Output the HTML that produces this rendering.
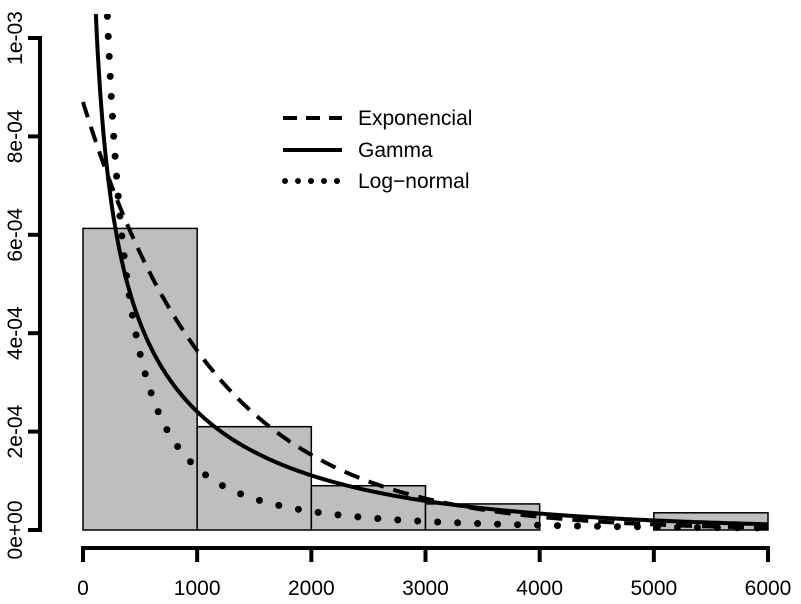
<!DOCTYPE html>
<html><head><meta charset="utf-8"><style>body{margin:0;background:#fff}svg{display:block}</style></head>
<body>
<svg id="chart" width="801" height="604" xmlns="http://www.w3.org/2000/svg" font-family="Liberation Sans, sans-serif">
<defs><clipPath id="clip"><rect x="0" y="14" width="801" height="540"/></clipPath></defs>
<g id="bars"></g>
<g id="curves" clip-path="url(#clip)"></g>
<g id="axes"></g>
<g id="legend">
  <line x1="283" y1="118" x2="342" y2="118" stroke="#000" stroke-width="4" stroke-dasharray="14,9"/>
  <text x="358" y="125" font-size="21">Exponencial</text>
  <line x1="283" y1="150" x2="342" y2="150" stroke="#000" stroke-width="4"/>
  <text x="358" y="157" font-size="21">Gamma</text>
  <line x1="285" y1="181" x2="342" y2="181" stroke="#000" stroke-width="6" stroke-linecap="round" stroke-dasharray="0,13"/>
  <text x="358" y="188" font-size="21">Log−normal</text>
</g>
</svg>
<script>
const binEdges = [0,1000,2000,3000,4000,5000,6000];
const binDensity = [6.13e-4, 2.1e-4, 0.9e-4, 0.53e-4, 0, 0.35e-4];
const xTicks = [0,1000,2000,3000,4000,5000,6000];
const yTicks = [0,2e-4,4e-4,6e-4,8e-4,1e-3];
const yTickLabels = ["0e+00","2e-04","4e-04","6e-04","8e-04","1e-03"];
const expParams = [0.00087];
const gammaParams = [0.5, 0.000427];
const lnormParams = [5.0, 1.75];

const NS="http://www.w3.org/2000/svg";
const X=v=>83+v*(768-83)/6000;
const Y=v=>530-v*492000;
function mk(tag,attrs,parent){const e=document.createElementNS(NS,tag);for(const k in attrs)e.setAttribute(k,attrs[k]);parent.appendChild(e);return e;}
const bars=document.getElementById('bars'),curves=document.getElementById('curves'),axes=document.getElementById('axes');
binDensity.forEach((d,i)=>{
  const r=mk('rect',{x:X(binEdges[i]),y:Y(d),width:X(binEdges[i+1])-X(binEdges[i]),height:Y(0)-Y(d),fill:'#bebebe',stroke:'#000','stroke-width':1.5},bars);
  
  
});
function pathFor(f,x0){let d='';for(let x=x0;x<=6000;x+=10){d+=(d?'L':'M')+X(x).toFixed(1)+','+Y(f(x)).toFixed(1);}return d;}
const fExp=x=>expParams[0]*Math.exp(-expParams[0]*x);
const k=gammaParams[0],b=gammaParams[1];
const fGam=x=>Math.pow(b,k)/Math.sqrt(Math.PI)*Math.pow(x,k-1)*Math.exp(-b*x);
const mu=lnormParams[0],s=lnormParams[1];
const fLn=x=>1/(x*s*Math.sqrt(2*Math.PI))*Math.exp(-Math.pow(Math.log(x)-mu,2)/(2*s*s));
const pe=mk('path',{d:pathFor(fExp,0),fill:'none',stroke:'#000','stroke-width':4,'stroke-dasharray':'16,10'},curves);


const pg=mk('path',{d:pathFor(fGam,100),fill:'none',stroke:'#000','stroke-width':4},curves);


const pl=mk('path',{d:pathFor(fLn,100),fill:'none',stroke:'#000','stroke-width':7,'stroke-linecap':'round','stroke-dasharray':'0,20'},curves);


const xa=mk('line',{x1:X(0),x2:X(6000),y1:548,y2:548,stroke:'#000','stroke-width':4},axes);


xTicks.forEach(t=>{
  mk('line',{x1:X(t),x2:X(t),y1:546,y2:562,stroke:'#000','stroke-width':4},axes);
  const tx=mk('text',{x:X(t),y:595,'font-size':21,'text-anchor':'middle'},axes);tx.textContent=t;
  
  
});
const ya=mk('line',{x1:40,x2:40,y1:Y(0),y2:Y(1e-3),stroke:'#000','stroke-width':4},axes);


yTicks.forEach((t,i)=>{
  mk('line',{x1:28,x2:42,y1:Y(t),y2:Y(t),stroke:'#000','stroke-width':4},axes);
  const tx=mk('text',{x:0,y:0,'font-size':21,'text-anchor':'middle',transform:`translate(22,${Y(t)}) rotate(-90)`},axes);tx.textContent=yTickLabels[i];
  
  
});
</script>
</body></html>
